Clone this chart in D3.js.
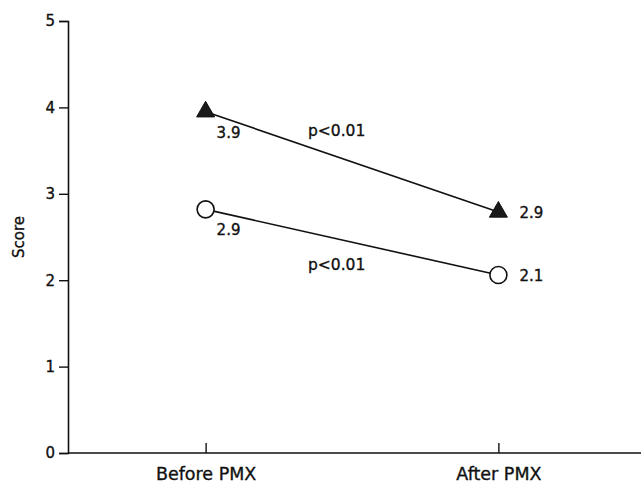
<!DOCTYPE html>
<html>
<head>
<meta charset="utf-8">
<script src="https://cdn.jsdelivr.net/npm/d3@7"></script>
<style>
  body { margin: 0; background: #fff; }
  svg text { font-family: "DejaVu Sans", "Liberation Sans", sans-serif; fill: #111; stroke: #111; stroke-width: 0.35px; }
</style>
</head>
<body>
<script>
// data
const phases = ['Before PMX', 'After PMX'];
const triangleScores = [3.95, 2.79];
const circleScores = [2.82, 2.06];
const triangleLabels = ['3.9', '2.9'];
const circleLabels = ['2.9', '2.1'];
const pLabels = ['p<0.01', 'p<0.01'];
const yTicks = [0, 1, 2, 3, 4, 5];

const width = 641, height = 485;

let svg = d3.select('body').append('svg')
  .attr('width', width)
  .attr('height', height);

// scales
let x = d3.scalePoint().domain(phases).range([68, 636]).padding(0.47);
let y = d3.scaleLinear().domain([0, 5]).range([453, 21]);

// y axis
let yAxis = svg.append('g')
  .attr('transform', 'translate(68,0)')
  .call(d3.axisLeft(y).tickValues(yTicks).tickSize(9).tickPadding(4).tickFormat(d3.format('d')));
yAxis.select('.domain').attr('stroke', '#111').attr('stroke-width', 1.6);
yAxis.selectAll('.tick line').attr('stroke', '#111').attr('stroke-width', 1.4);
yAxis.selectAll('.tick text').style('font-size', '15px').attr('fill', '#111');

// x axis, ticks pointing up, line runs to the right edge
let xAxis = svg.append('g')
  .attr('transform', 'translate(0,453)')
  .call(d3.axisBottom(x).tickSize(-10).tickSizeOuter(0).tickPadding(0));
xAxis.select('.domain').remove();
xAxis.append('line')
  .attr('x1', 68).attr('x2', width)
  .attr('stroke', '#111').attr('stroke-width', 1.6);
xAxis.selectAll('.tick line').attr('stroke', '#111').attr('stroke-width', 1.4);
xAxis.selectAll('.tick text')
  .attr('y', 15)
  .style('font-size', '17.5px')
  .attr('fill', '#111');

// axis title
svg.append('text')
  .attr('transform', 'translate(24,' + y(2.5) + ') rotate(-90)')
  .attr('text-anchor', 'middle')
  .style('font-size', '15px')
  .text('Score');

let line = d3.line()
  .x((d, i) => x(phases[i]))
  .y(d => y(d));

// connecting lines
[triangleScores, circleScores].forEach(s => {
  svg.append('path')
    .datum(s)
    .attr('d', line)
    .attr('fill', 'none')
    .attr('stroke', '#111')
    .attr('stroke-width', 1.6);
});

// triangles
svg.selectAll('.tri')
  .data(triangleScores)
  .enter().append('path')
  .attr('class', 'tri')
  .attr('transform', (d, i) => 'translate(' + x(phases[i]) + ',' + y(d) + ')')
  .attr('d', d3.symbol().type(d3.symbolTriangle).size(140))
  .attr('fill', '#1a1a1a')
  .attr('stroke', '#111')
  .attr('stroke-width', 1);

// circles
svg.selectAll('.circ')
  .data(circleScores)
  .enter().append('circle')
  .attr('class', 'circ')
  .attr('cx', (d, i) => x(phases[i]))
  .attr('cy', d => y(d))
  .attr('r', 8.5)
  .attr('fill', '#fff')
  .attr('stroke', '#111')
  .attr('stroke-width', 1.6);

// value labels: before below-right, after to the right
function valueLabels(scores, labels) {
  svg.append('g').selectAll('text')
    .data(scores)
    .enter().append('text')
    .attr('x', (d, i) => x(phases[i]) + (i == 0 ? 11 : 21))
    .attr('y', (d, i) => y(d) + (i == 0 ? 26 : 6))
    .style('font-size', '15px')
    .text((d, i) => labels[i]);
}
valueLabels(triangleScores, triangleLabels);
valueLabels(circleScores, circleLabels);

// p values near the middle of each line
let midX = (x(phases[0]) + x(phases[1])) / 2;
svg.append('text')
  .attr('x', midX - 44)
  .attr('y', y(d3.mean(triangleScores)) - 26)
  .style('font-size', '15.5px')
  .text(pLabels[0]);
svg.append('text')
  .attr('x', midX - 44)
  .attr('y', y(d3.mean(circleScores)) + 28)
  .style('font-size', '15.5px')
  .text(pLabels[1]);
</script>
</body>
</html>
